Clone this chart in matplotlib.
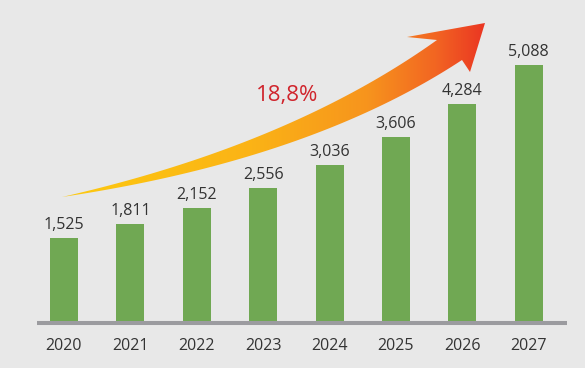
import numpy as np
import matplotlib
matplotlib.use("Agg")
import matplotlib.pyplot as plt
from matplotlib.path import Path
from matplotlib.patches import PathPatch
from matplotlib.colors import LinearSegmentedColormap

years = ["2020", "2021", "2022", "2023", "2024", "2025", "2026", "2027"]
values = [1525, 1811, 2152, 2556, 3036, 3606, 4284, 5088]
value_labels = ["1,525", "1,811", "2,152", "2,556", "3,036", "3,606", "4,284", "5,088"]
cagr_label = "18,8%"

W, H = 585, 368
BG = "#e8e8e8"
TXT = "#333333"
plt.rcParams['font.family'] = ['Open Sans', 'DejaVu Sans']

fig = plt.figure(figsize=(W / 100, H / 100), dpi=100, facecolor=BG)

# main axes: x from 37 to 567 px, bottom (axis line centre) at y=323 px
ax_left, ax_right = 37, 567
ax_bottom_px = 323
ax = fig.add_axes([ax_left / W, (H - ax_bottom_px) / H, (ax_right - ax_left) / W, ax_bottom_px / H])
ax.set_facecolor(BG)
x = np.arange(len(years))
spacing = 66.4
c0 = 64
ax.set_xlim((ax_left - c0) / spacing, (ax_right - c0) / spacing)
y0 = -216
ax.set_ylim(y0, y0 + ax_bottom_px * 20.56)

vals = np.array(values)
ax.bar(x, vals - y0, bottom=y0, width=0.42, color="#70a853", zorder=2)
for xi, v, lab in zip(x, values, value_labels):
    ax.annotate(lab, (xi, v), xytext=(0, 6.5), textcoords="offset points",
                ha="center", va="baseline", fontsize=11.5, color=TXT)

for s in ["top", "left", "right"]:
    ax.spines[s].set_visible(False)
ax.spines["bottom"].set_color("#9b9b9f")
ax.spines["bottom"].set_linewidth(2.9)
ax.spines["bottom"].set_capstyle("butt")
ax.spines["bottom"].set_zorder(3)
ax.set_yticks([])
ax.set_xticks(x)
ax.set_xticklabels(years, fontsize=11.5, color=TXT)
ax.tick_params(axis="x", length=0, pad=11)

# overlay for the arrow in pixel coords
ov = fig.add_axes([0, 0, 1, 1], facecolor="none")
ov.set_xlim(0, W)
ov.set_ylim(H, 0)
ov.axis("off")


def qbez(p0, p1, p2, n=60):
    t = np.linspace(0, 1, n)[:, None]
    p0, p1, p2 = map(np.array, (p0, p1, p2))
    return (1 - t) ** 2 * p0 + 2 * (1 - t) * t * p1 + t ** 2 * p2

tail = (62, 197)
upper = qbez(tail, (290, 145), (437, 40))
lower = qbez(tail, (310, 160), (462, 60))
head = np.array([(407, 37), (485, 23), (470, 72)])
pts = np.vstack([upper, head, lower[::-1]])
codes = [Path.MOVETO] + [Path.LINETO] * (len(pts) - 1)
path = Path(np.vstack([pts, pts[:1]]), codes + [Path.CLOSEPOLY])
patch = PathPatch(path, facecolor="none", edgecolor="none")
ov.add_patch(patch)

cmap = LinearSegmentedColormap.from_list(
    "arr", [(0.0, "#fdca10"), (0.45, "#fbb316"), (0.72, "#f7941d"),
            (0.88, "#f26522"), (1.0, "#ea3323")])
grad = np.linspace(0, 1, 256)[None, :]
im = ov.imshow(grad, cmap=cmap, extent=(60, 488, 200, 20), aspect="auto", zorder=4)
im.set_clip_path(patch)

ov.text(287, 95, cagr_label, fontsize=16, color="#d0242c", ha="center", va="center")

fig.savefig("out.png", dpi=100, facecolor=BG)
